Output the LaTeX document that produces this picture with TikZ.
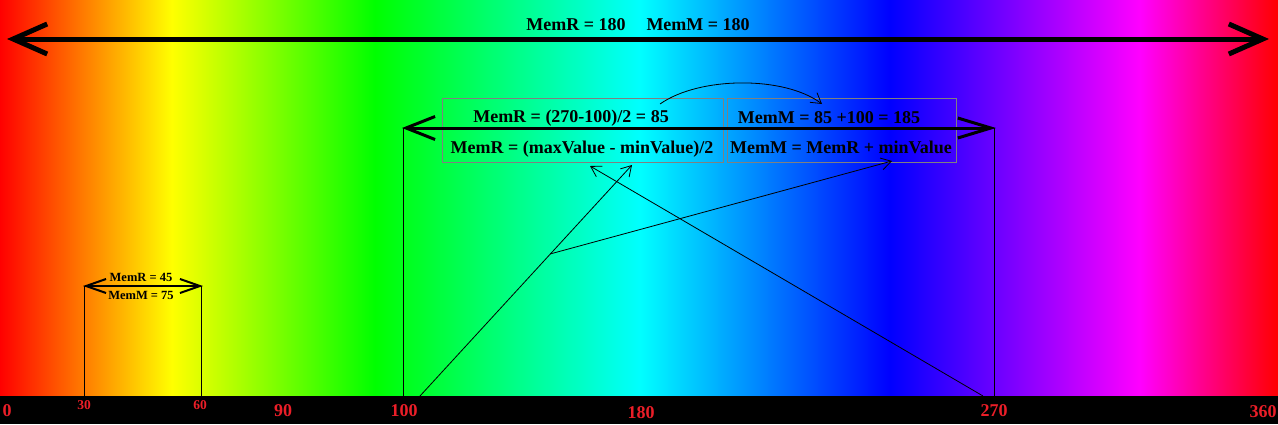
\documentclass[tikz,border=0pt]{standalone}
\usepackage{fontspec}
\setmainfont{Liberation Serif}
\usetikzlibrary{arrows.meta}
\pgfdeclarehorizontalshading{hue}{100bp}{rgb(0bp)=(1,0,0); rgb(25bp)=(1,0,0); rgb(31.73bp)=(1,1,0); rgb(39.67bp)=(0,1,0); rgb(50.04bp)=(0,1,1); rgb(59.82bp)=(0,0,1); rgb(69.6bp)=(1,0,1); rgb(75bp)=(1,0,0); rgb(100bp)=(1,0,0)}
\definecolor{axisred}{RGB}{235,30,40}
\definecolor{boxgray}{RGB}{128,128,128}
\begin{document}
\begin{tikzpicture}[x=1pt,y=-1pt,
  lbl/.style={font=\bfseries\fontsize{18}{18}\selectfont, inner sep=0pt, anchor=base, text=black},
  smalllbl/.style={font=\bfseries\fontsize{12.5}{12.5}\selectfont, inner sep=0pt, anchor=base, text=black},
  num/.style={font=\bfseries\fontsize{18}{18}\selectfont, inner sep=0pt, anchor=base, text=axisred},
  numsm/.style={font=\bfseries\fontsize{13.5}{13.5}\selectfont, inner sep=0pt, anchor=base, text=axisred},
  bigarrow/.style={line width=5pt, {Straight Barb[length=34pt,width=30pt]}-{Straight Barb[length=34pt,width=30pt]}},
  midarrow/.style={line width=3pt, {Straight Barb[length=29pt,width=23pt]}-{Straight Barb[length=33pt,width=20pt]}},
  smallarrow/.style={line width=2pt, {Straight Barb[length=20pt,width=14pt]}-{Straight Barb[length=20pt,width=14pt]}},
  thinarrow/.style={line width=0.8pt, -{Straight Barb[length=10pt,width=12pt,line width=0.8pt]}},
  tick/.style={line width=1pt},
  formbox/.style={draw=boxgray, line width=1pt, inner sep=0pt}
]
\useasboundingbox (0,0) rectangle (1278,424);
% background spectrum
\shade[shading=hue] (0,0) rectangle (1278,396);
\fill[black] (0,396) rectangle (1278,424);

% coordinates
\coordinate (topL) at (7,39);
\coordinate (topR) at (1269,39);
\coordinate (midL) at (402,128);
\coordinate (midR) at (996,128);
\coordinate (smL) at (83,286);
\coordinate (smR) at (203,286);
\coordinate (v30t) at (84,286);
\coordinate (v30b) at (84,396);
\coordinate (v60t) at (201,286);
\coordinate (v60b) at (201,396);
\coordinate (v100t) at (403,128);
\coordinate (v100b) at (403,396);
\coordinate (v270t) at (994,128);
\coordinate (v270b) at (994,396);
\coordinate (l1s) at (420,396);
\coordinate (l1e) at (632,165);
\coordinate (l2s) at (983,396);
\coordinate (l2e) at (590,166);
\coordinate (j) at (550,254);
\coordinate (l3e) at (892,161);
\coordinate (cs) at (660,104);
\coordinate (ce) at (822,104);

% boxes
\node[formbox, minimum width=281pt, minimum height=64pt] (boxL) at (582.5,130) {};
\node[formbox, minimum width=229pt, minimum height=64pt] (boxR) at (841.5,130) {};

% main arrows
\draw[bigarrow] (topL) -- (topR);
\draw[midarrow] (midL) -- (midR);
\draw[smallarrow] (smL) -- (smR);

% vertical ticks
\draw[tick] (v30t) -- (v30b);
\draw[tick] (v60t) -- (v60b);
\draw[tick] (v100t) -- (v100b);
\draw[tick] (v270t) -- (v270b);

% thin connectors
\draw[thinarrow] (l1s) -- (l1e);
\draw[thinarrow] (l2s) -- (l2e);
\draw[thinarrow] (j) -- (l3e);
\draw[thinarrow] (cs) .. controls (700,76) and (785,76) .. (ce);

% labels
\node[lbl] (toplbl) at (638,30) {MemR = 180\hspace{21pt}MemM = 180};
\node[lbl] (bl1) at (571,122) {MemR = (270-100)/2 = 85};
\node[lbl] (bl2) at (582,153) {MemR = (maxValue - minValue)/2};
\node[lbl] (br1) at (829,123) {MemM = 85 +100 = 185};
\node[lbl] (br2) at (841,153) {MemM = MemR + minValue};
\node[smalllbl] (s1) at (141,281) {MemR = 45};
\node[smalllbl] (s2) at (141,299) {MemM = 75};

% axis numbers
\node[num] (n0) at (7,416) {0};
\node[numsm] (n30) at (84,409) {30};
\node[numsm] (n60) at (200,409) {60};
\node[num] (n90) at (283,416) {90};
\node[num] (n100) at (404,416) {100};
\node[num] (n180) at (641,418) {180};
\node[num] (n270) at (994,416) {270};
\node[num] (n360) at (1263,417) {360};
\end{tikzpicture}
\end{document}
